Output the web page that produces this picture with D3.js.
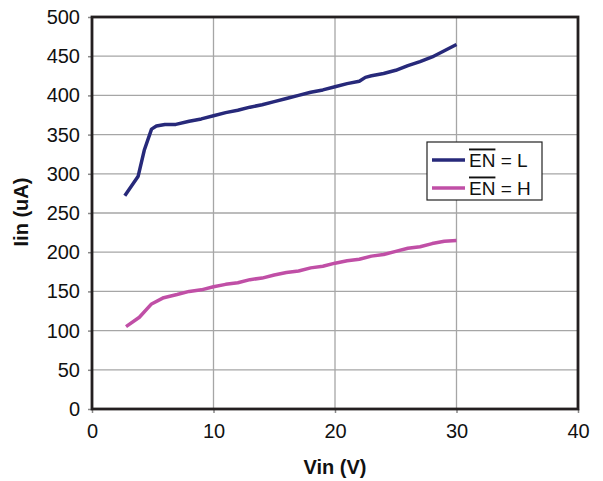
<!DOCTYPE html>
<html><head><meta charset="utf-8">
<script src="https://cdn.jsdelivr.net/npm/d3@7"></script>
<style>body{margin:0;background:#fff;} text{font-family:"Liberation Sans",Arial,sans-serif;}</style>
</head><body>
<svg id="c" width="603" height="481"></svg>
<script>
const xTicks = [0, 10, 20, 30, 40];
const yTicks = [0, 50, 100, 150, 200, 250, 300, 350, 400, 450, 500];
const seriesNames = ["EN = L", "EN = H"];
const vinL = [2.7, 3.8, 4.3, 4.9, 5.3, 6, 6.9, 8, 9, 10, 11, 12, 13, 14, 15, 16, 17, 18, 19, 20, 21, 22, 22.5, 23, 24, 25, 26, 27, 28, 29, 30];
const iinL = [272, 297, 330, 357, 361, 363, 363, 367, 370, 374, 378, 381, 385, 388, 392, 396, 400, 404, 407, 411, 415, 418, 423, 425, 428, 432, 438, 443, 449, 457, 465];
const vinH = [2.8, 3.9, 4.9, 5.9, 7, 8, 9, 10, 11, 12, 13, 14, 15, 16, 17, 18, 19, 20, 21, 22, 23, 24, 25, 26, 27, 28, 29, 30];
const iinH = [105, 117, 134, 142, 146, 150, 152, 156, 159, 161, 165, 167, 171, 174, 176, 180, 182, 186, 189, 191, 195, 197, 201, 205, 207, 211, 214, 215];
const colors = ["#27297a", "#c04fa6"];

const svg = d3.select("#c");
const L = 92, R = 578, T = 17, B = 409;
const x = d3.scaleLinear().domain([0, 40]).range([L, R]);
const y = d3.scaleLinear().domain([0, 500]).range([B, T]);
const FONT = '"Liberation Sans",Arial,sans-serif';

// grid
svg.append("g").selectAll("line").data(yTicks.slice(1)).join("line")
  .attr("x1", L).attr("x2", R).attr("y1", d => y(d)).attr("y2", d => y(d))
  .attr("stroke", "#a6a6a6").attr("stroke-width", 1.3);
svg.append("g").selectAll("line").data(xTicks.slice(1, -1)).join("line")
  .attr("y1", T).attr("y2", B).attr("x1", d => x(d)).attr("x2", d => x(d))
  .attr("stroke", "#a6a6a6").attr("stroke-width", 1.3);

// axes
const xa = svg.append("g").attr("transform", `translate(0,${B})`)
  .call(d3.axisBottom(x).tickValues(xTicks).tickSize(4).tickPadding(11));
const ya = svg.append("g").attr("transform", `translate(${L},0)`)
  .call(d3.axisLeft(y).tickValues(yTicks).tickSize(4).tickPadding(8));
[xa, ya].forEach(a => {
  a.select(".domain").remove();
  a.selectAll("line").attr("stroke", "#888").attr("stroke-width", 1.5);
  a.selectAll("text").attr("font-size", 20).attr("fill", "#111").style("font-family", FONT);
});

// frame
svg.append("rect").attr("x", L).attr("y", T).attr("width", R - L).attr("height", B - T)
  .attr("fill", "none").attr("stroke", "#231f20").attr("stroke-width", 2.8);

// lines
const line = d3.line().x(d => x(d[0])).y(d => y(d[1]));
const dataL = vinL.map((v, i) => [v, iinL[i]]);
const dataH = vinH.map((v, i) => [v, iinH[i]]);
[dataL, dataH].forEach((d, i) => {
  svg.append("path").datum(d).attr("d", line).attr("fill", "none")
    .attr("stroke", colors[i]).attr("stroke-width", 3.5).attr("stroke-linejoin", "round");
});

// legend
const lg = svg.append("g");
lg.append("rect").attr("x", 427).attr("y", 142).attr("width", 115).attr("height", 58)
  .attr("fill", "#fff").attr("stroke", "#222").attr("stroke-width", 1.2);
seriesNames.forEach((n, i) => {
  const yy = 160 + i * 28;
  lg.append("line").attr("x1", 432).attr("x2", 465).attr("y1", yy).attr("y2", yy)
    .attr("stroke", colors[i]).attr("stroke-width", 3.5);
  const t = lg.append("text").attr("x", 469).attr("y", yy + 6.5).attr("font-size", 19).attr("fill", "#111");
  const parts = n.split(" = ");
  t.append("tspan").text(parts[0]).style("text-decoration", "overline");
  t.append("tspan").text(" = " + parts[1]);
});

// axis titles
svg.append("text").attr("x", 335).attr("y", 474).attr("text-anchor", "middle")
  .attr("font-size", 20).attr("font-weight", "bold").attr("fill", "#111").text("Vin (V)");
svg.append("text").attr("transform", "translate(28,212) rotate(-90)").attr("text-anchor", "middle")
  .attr("font-size", 20).attr("font-weight", "bold").attr("fill", "#111").text("Iin (uA)");
</script>
</body></html>
